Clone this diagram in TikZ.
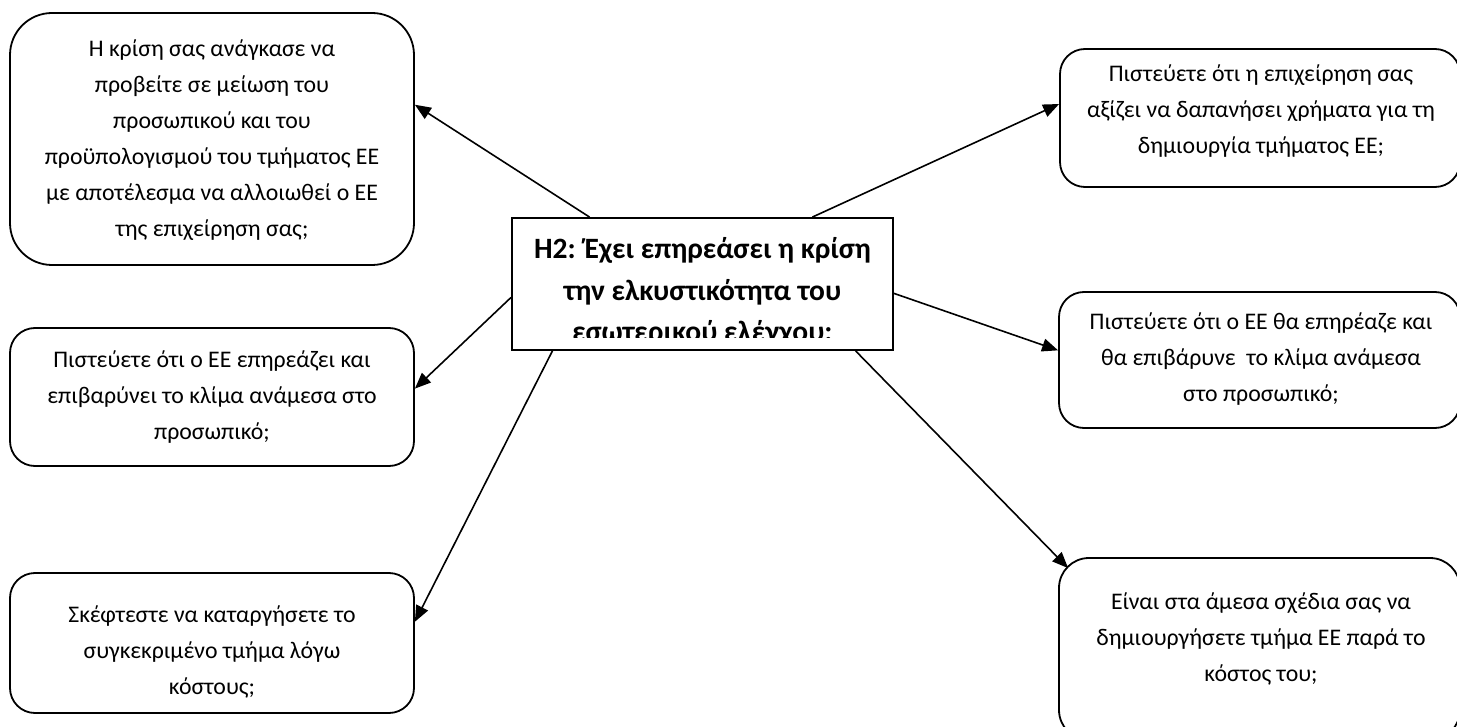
\documentclass[tikz,border=0pt]{standalone}
\usepackage{fontspec}
\setmainfont{Carlito}
\usetikzlibrary{arrows.meta,calc}
\begin{document}
\begin{tikzpicture}[x=1pt,y=-1pt,
  qbox/.style={draw, line width=1.8pt, rounded corners=#1, inner sep=0pt},
  qbox/.default=25pt,
  qtext/.style={align=center, inner sep=0pt, font=\fontsize{23.8}{36}\selectfont},
  hyp/.style={draw, line width=1.8pt, inner sep=0pt, minimum width=381pt, minimum height=132pt},
  hyptext/.style={align=center, inner sep=0pt, font=\bfseries\fontsize{29.5}{41.5}\selectfont},
  conn/.style={line width=1.6pt, -{Triangle[length=16pt,width=13pt]}}
]
\useasboundingbox (0,0) rectangle (1457,727);
\clip (0,0) rectangle (1457,727);

% question boxes on the left
\node[qbox=42pt, minimum width=404pt, minimum height=252pt] (tl) at (212,139) {};
\node[qbox, minimum width=404pt, minimum height=138pt] (ml) at (212,397) {};
\node[qbox, minimum width=404pt, minimum height=140pt] (bl) at (212,643) {};

% question boxes on the right
\node[qbox, minimum width=400pt, minimum height=138pt] (tr) at (1260,118) {};
\node[qbox, minimum width=401pt, minimum height=136pt] (mr) at (1259.5,360) {};
\node[qbox=30pt, minimum width=401pt, minimum height=182pt] (br) at (1259.5,649) {};

% box texts
\node[qtext] (tltext) at (212,140) {Η κρίση σας ανάγκασε να\\προβείτε σε μείωση του\\προσωπικού και του\\προϋπολογισμού του τμήματος ΕΕ\\με αποτέλεσμα να αλλοιωθεί ο ΕΕ\\της επιχείρηση σας;};
\node[qtext] (mltext) at (212,397) {Πιστεύετε ότι ο ΕΕ επηρεάζει και\\επιβαρύνει το κλίμα ανάμεσα στο\\προσωπικό;};
\node[qtext] (bltext) at (212,652) {Σκέφτεστε να καταργήσετε το\\συγκεκριμένο τμήμα λόγω\\κόστους;};
\node[qtext] (trtext) at (1261,111) {Πιστεύετε ότι η επιχείρηση σας\\αξίζει να δαπανήσει χρήματα για τη\\δημιουργία τμήματος ΕΕ;};
\node[qtext] (mrtext) at (1261,359) {Πιστεύετε ότι ο ΕΕ θα επηρέαζε και\\θα επιβάρυνε\ \ το κλίμα ανάμεσα\\στο προσωπικό;};
\node[qtext] (brtext) at (1261,639) {Είναι στα άμεσα σχέδια σας να\\δημιουργήσετε τμήμα ΕΕ παρά το\\κόστος του;};

% central hypothesis box, its text cut off at the lower margin
\node[hyp, fill=white] (c) at (702.5,284) {};
\begin{scope}
  \clip (512,218) rectangle (893,338);
  \node[hyptext] (ctext) at (702.5,292) {Η2: Έχει επηρεάσει η κρίση\\την ελκυστικότητα του\\εσωτερικού ελέγχου;};
\end{scope}

% connectors from the hypothesis to each question
\draw[conn] ($(c.north west)!0.205!(c.north east)$) -- ($(tl.north east)!0.365!(tl.south east)$);
\draw[conn] ($(c.north west)!0.787!(c.north east)$) -- ($(tr.north west)!0.4!(tr.south west)$);
\draw[conn] ($(c.north west)!0.6!(c.south west)$) -- ($(ml.north east)!0.44!(ml.south east)$);
\draw[conn] ($(c.south west)!0.108!(c.south east)$) -- ($(bl.north east)!0.35!(bl.south east)$);
\draw[conn] ($(c.north east)!0.57!(c.south east)$) -- ($(mr.north west)!0.43!(mr.south west)$);
\draw[conn] ($(c.south west)!0.9!(c.south east)$) -- ($(br.north west)+(10,11)$);
\end{tikzpicture}
\end{document}
